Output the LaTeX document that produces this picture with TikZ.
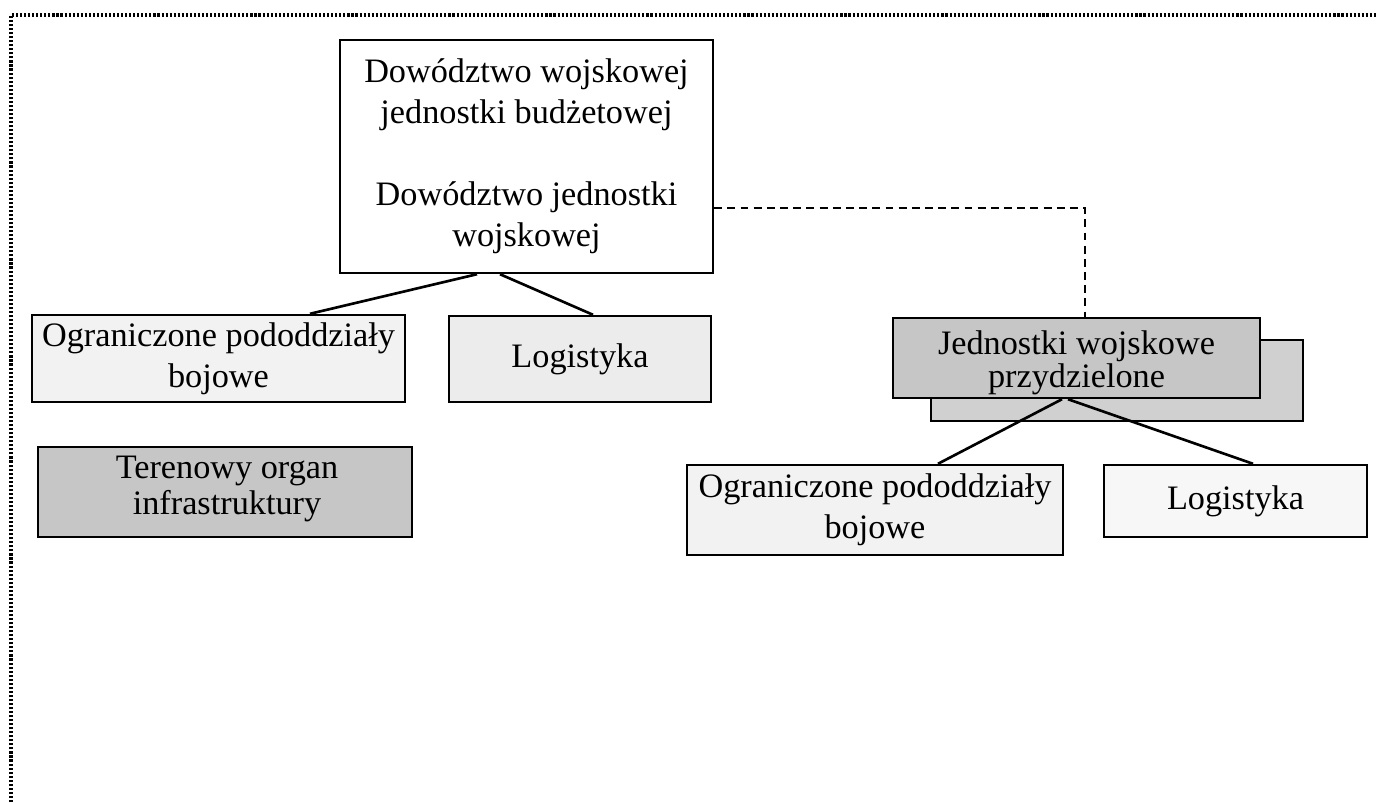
\documentclass[tikz,border=0pt]{standalone}
\usepackage{fontspec}
\setmainfont{Liberation Serif}
\usetikzlibrary{calc}

\definecolor{paleA}{HTML}{F2F2F2}
\definecolor{paleB}{HTML}{ECECEC}
\definecolor{paleC}{HTML}{F7F7F7}
\definecolor{midgray}{HTML}{C6C6C6}
\definecolor{backgray}{HTML}{D0D0D0}

\tikzset{
  orgbox/.style={draw=black, line width=1.4pt, align=center, inner sep=2pt,
    font=\fontsize{19.5}{23.5}\selectfont},
  boxtext/.style={align=center, inner sep=0pt},
  link/.style={draw=black, line width=1.5pt},
  dashlink/.style={draw=black, line width=1pt, dash pattern=on 4.5pt off 3pt},
  frame/.style={draw=black, line width=1.9pt, dash pattern=on 1.2pt off 1.1pt}
}

\begin{document}
\begin{tikzpicture}[x=0.02cm, y=-0.02cm]
  \useasboundingbox (0,0) rectangle (1376,802);

  % outer dotted frame (top and left edges)
  \coordinate (fbl) at (11,802);
  \coordinate (ftl) at (11,15);
  \coordinate (ftr) at (1376,15);
  \draw[frame] (fbl) -- (ftl) -- (ftr);

  % command
  \node[orgbox, fill=white, minimum width=7.46cm, minimum height=4.66cm]
    (top) at (526.5,156.5)
    {Dowództwo wojskowej\\jednostki budżetowej\\[23pt]Dowództwo jednostki\\wojskowej};

  % own subunits
  \node[orgbox, fill=paleA, minimum width=7.46cm, minimum height=1.74cm]
    (lOgr) at (218.5,358.5) {Ograniczone pododdziały\\bojowe};
  \node[orgbox, fill=paleB, minimum width=5.24cm, minimum height=1.72cm]
    (lLog) at (580,359) {Logistyka};
  \node[orgbox, fill=midgray, minimum width=7.48cm, minimum height=1.8cm]
    (teren) at (225,492) {};
  \node[boxtext, font=\fontsize{19.5}{20}\selectfont]
    (terenText) at ($(teren.center)+(2,-3)$) {Terenowy organ\\infrastruktury};

  % assigned units (stacked boxes)
  \node[orgbox, fill=backgray, minimum width=7.44cm, minimum height=1.62cm]
    (back) at (1117,380.5) {};
  \node[orgbox, fill=midgray, minimum width=7.34cm, minimum height=1.6cm]
    (front) at (1076.5,358) {};
  \node[boxtext, font=\fontsize{19.5}{19}\selectfont]
    (frontText) at ($(front.center)+(0,5)$) {Jednostki wojskowe\\przydzielone};

  \node[orgbox, fill=paleA, minimum width=7.52cm, minimum height=1.8cm]
    (rOgr) at (875,510) {Ograniczone pododdziały\\bojowe};
  \node[orgbox, fill=paleC, minimum width=5.26cm, minimum height=1.44cm]
    (rLog) at (1235.5,501) {Logistyka};

  % connectors
  \draw[link] ($(top.south)+(-49.5,0)$) -- ($(lOgr.north)+(91.5,0)$);
  \draw[link] ($(top.south)+(-26.5,0)$) -- ($(lLog.north)+(13,0)$);
  \draw[dashlink] ($(top.east)+(0,51.5)$) -| ($(front.north)+(8.5,0)$);
  \draw[link] ($(front.south)+(-14.5,0)$) -- ($(rOgr.north)+(63,0)$);
  \draw[link] ($(front.south)+(-8.5,0)$) -- ($(rLog.north)+(17.5,0)$);
\end{tikzpicture}
\end{document}
